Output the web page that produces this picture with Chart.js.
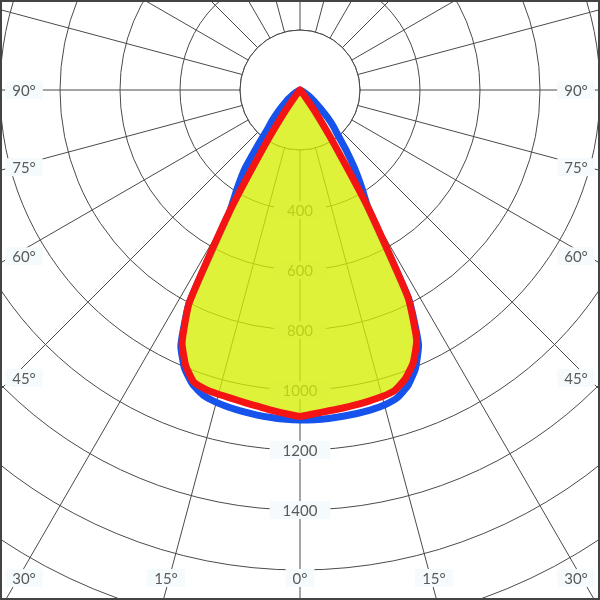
<!DOCTYPE html>
<html>
<head>
<meta charset="utf-8">
<script src="https://cdn.jsdelivr.net/npm/chart.js@4.4.0/dist/chart.umd.min.js"></script>
<style>
  html, body { margin: 0; padding: 0; background: #fff; overflow: hidden; }
  #frame { position: relative; width: 600px; height: 600px; overflow: hidden; }
  #chart { position: absolute; left: -300px; top: -510px; }
  #border { position: absolute; left: 0; top: 0; width: 600px; height: 600px; box-sizing: border-box; border: 2px solid #444; pointer-events: none; }
</style>
</head>
<body>
<div id="frame">
  <canvas id="chart" width="1200" height="1200"></canvas>
  <div id="border"></div>
</div>
<script>
// intensity every 2.5 degrees from nadir (0 deg), one list per side of each plane
const step = 2.5;
const redLeft   = [1088, 1080, 1072, 1064, 1058, 1053, 1050, 1046, 1036, 995, 930, 800, 480, 220, 95, 30, 0];
const redRight  = [1087, 1080, 1074, 1070, 1066, 1062, 1058, 1050, 1025, 985, 920, 780, 460, 200, 85, 25, 0];
const blueLeft  = [1100, 1099, 1096, 1093, 1089, 1084, 1078, 1068, 1045, 1005, 940, 800, 470, 390, 320, 225, 165, 135, 105, 82, 62, 48, 35, 22, 10, 0];
const blueRight = [1100, 1100, 1099, 1097, 1095, 1092, 1087, 1076, 1050, 1005, 935, 785, 455, 380, 315, 252, 197, 165, 130, 95, 70, 55, 40, 25, 12, 0];
const ringTicks = [400, 600, 800, 1000, 1200, 1400];
const angleTicks = [0, 15, 30, 45, 60, 75, 90];

const gridColor = '#4a4a4a';
const textColor = '#5a5a5a';
const font = '15px Lato, "Open Sans", sans-serif';

const count = 360 / step;
const labels = [];
for (let i = 0; i < count; i++) labels.push(i * step);

// left side runs clockwise from nadir, right side fills in from the other end
function plane(left, right) {
  const out = new Array(count).fill(0);
  left.forEach((v, i) => { out[i] = v; });
  right.forEach((v, i) => { if (i > 0) out[count - i] = v; });
  return out;
}

function drawLabel(ctx, text, x, y, padX) {
  const w = ctx.measureText(text).width + padX * 2;
  const h = 18;
  ctx.fillStyle = '#f5fafd';
  ctx.fillRect(x - w / 2, y - h / 2, w, h);
  ctx.fillStyle = textColor;
  ctx.fillText(text, x, y + 1);
}

const overlay = {
  id: 'overlay',
  beforeDatasetsDraw(chart) {
    const s = chart.scales.r;
    const ctx = chart.ctx;
    const cx = s.xCenter, cy = s.yCenter;
    const r0 = s.getDistanceFromCenterForValue(200);
    ctx.save();
    // no spokes inside the 200 ring
    ctx.fillStyle = '#fff';
    ctx.beginPath();
    ctx.arc(cx, cy, r0 - 0.5, 0, Math.PI * 2);
    ctx.fill();
    ctx.strokeStyle = gridColor;
    ctx.lineWidth = 1;
    ctx.beginPath();
    ctx.arc(cx, cy, r0, 0, Math.PI * 2);
    ctx.stroke();

    ctx.font = font;
    ctx.textAlign = 'center';
    ctx.textBaseline = 'middle';
    ringTicks.forEach(v => drawLabel(ctx, String(v), cx, cy + s.getDistanceFromCenterForValue(v), 13));

    // angle labels where the spokes meet the edge of the visible window
    const ox = 300, oy = 510;
    angleTicks.forEach(a => {
      const idxs = a === 0 ? [0] : [a / step, count - a / step];
      idxs.forEach(i => {
        const p = s.getPointPosition(i, 1);
        const dx = p.x - cx, dy = p.y - cy;
        let t = Infinity;
        if (dx < -1e-6) t = Math.min(t, (ox + 12 - cx) / dx);
        if (dx > 1e-6) t = Math.min(t, (ox + 588 - cx) / dx);
        if (dy > 1e-6) t = Math.min(t, (oy + 590 - cy) / dy);
        let x = cx + dx * t, y = cy + dy * t;
        x = Math.max(ox + 24, Math.min(ox + 576, x));
        y = Math.min(oy + 578, y);
        drawLabel(ctx, a + '°', x, y, 7);
      });
    });
    ctx.restore();
  }
};

new Chart(document.getElementById('chart'), {
  type: 'radar',
  data: {
    labels: labels,
    datasets: [
      {
        label: 'C0-C180',
        data: plane(redLeft, redRight),
        borderColor: '#f51414',
        backgroundColor: 'rgba(213,238,3,0.78)',
        fill: true,
        borderWidth: 7
      },
      {
        label: 'C90-C270',
        data: plane(blueLeft, blueRight),
        borderColor: '#1652ec',
        fill: false,
        borderWidth: 7
      }
    ]
  },
  options: {
    responsive: false,
    animation: false,
    elements: {
      point: { radius: 0, hoverRadius: 0 },
      line: { tension: 0.15, borderJoinStyle: 'round', borderCapStyle: 'round' }
    },
    plugins: {
      legend: { display: false },
      tooltip: { enabled: false }
    },
    scales: {
      r: {
        min: 0,
        max: 2000,
        startAngle: 180,
        ticks: { display: false, stepSize: 200 },
        grid: { circular: true, color: gridColor, lineWidth: 1 },
        angleLines: {
          color: gridColor,
          lineWidth: ctx => (ctx.index % 6 === 0 ? 1 : 0)
        },
        pointLabels: { display: false }
      }
    }
  },
  plugins: [overlay]
});
</script>
</body>
</html>
